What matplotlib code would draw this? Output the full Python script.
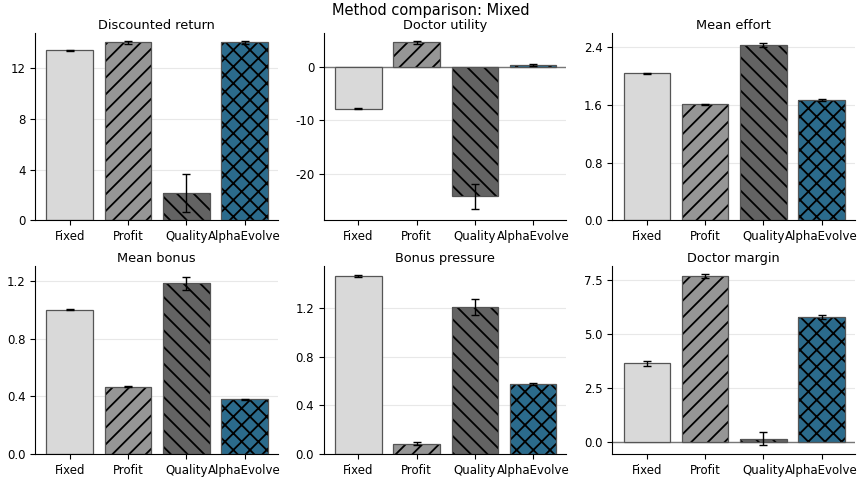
import matplotlib
matplotlib.use("Agg")
import matplotlib.pyplot as plt
import numpy as np

methods = ["Fixed", "Profit", "Quality", "AlphaEvolve"]
colors = ["#d9d9d9", "#969696", "#636363", "#2b6b8c"]
hatches = ["", "//", "\\\\", "xx"]

titles = ["Discounted return", "Doctor utility", "Mean effort",
          "Mean bonus", "Bonus pressure", "Doctor margin"]

discounted_return = [13.42, 14.05, 2.2, 14.05]
discounted_return_err = [0.05, 0.1, 1.5, 0.12]
doctor_utility = [-7.8, 4.6, -24.3, 0.4]
doctor_utility_err = [0.15, 0.3, 2.4, 0.15]
mean_effort = [2.04, 1.61, 2.43, 1.67]
mean_effort_err = [0.01, 0.008, 0.03, 0.01]
mean_bonus = [1.0, 0.465, 1.185, 0.378]
mean_bonus_err = [0.002, 0.004, 0.045, 0.004]
bonus_pressure = [1.46, 0.085, 1.205, 0.575]
bonus_pressure_err = [0.01, 0.015, 0.065, 0.008]
doctor_margin = [3.65, 7.72, 0.15, 5.82]
doctor_margin_err = [0.1, 0.1, 0.3, 0.1]

values = [discounted_return, doctor_utility, mean_effort,
          mean_bonus, bonus_pressure, doctor_margin]
errors = [discounted_return_err, doctor_utility_err, mean_effort_err,
          mean_bonus_err, bonus_pressure_err, doctor_margin_err]
yticks = [[0, 4, 8, 12], [-20, -10, 0], [0.0, 0.8, 1.6, 2.4],
          [0.0, 0.4, 0.8, 1.2], [0.0, 0.4, 0.8, 1.2], [0.0, 2.5, 5.0, 7.5]]
ytickfmt = ["{:.0f}", "{:.0f}", "{:.1f}", "{:.1f}", "{:.1f}", "{:.1f}"]

plt.rcParams['hatch.linewidth'] = 1.3
plt.rcParams['hatch.color'] = 'black'

fig, axes = plt.subplots(2, 3, figsize=(8.61, 4.83), dpi=100)
fig.subplots_adjust(left=0.041, right=0.993, top=0.932, bottom=0.06,
                    wspace=0.19, hspace=0.245)

x = np.arange(len(methods))
for i, ax in enumerate(axes.flat):
    v = values[i]
    e = errors[i]
    ax.bar(x, v, width=0.8, color=colors, edgecolor="black", hatch=hatches,
           linewidth=0, zorder=2)
    ax.bar(x, v, width=0.8, color="none", edgecolor="#555555",
           linewidth=0.9, zorder=3)
    ax.errorbar(x, v, yerr=e, fmt="none", ecolor="black", elinewidth=1.0,
                capsize=3, capthick=1.0, zorder=4)
    ax.set_title(titles[i], fontsize=9.3, pad=3)
    ax.set_xticks(x)
    ax.set_xticklabels(methods, fontsize=8.5)
    ax.set_yticks(yticks[i])
    ax.set_yticklabels([ytickfmt[i].format(t) for t in yticks[i]], fontsize=8.5)
    ax.grid(axis="y", color="#e8e8e8", linewidth=0.8, zorder=0)
    ax.set_axisbelow(True)
    ax.spines["top"].set_visible(False)
    ax.spines["right"].set_visible(False)
    ax.set_xlim(-0.59, 3.57)
    if min(v) < 0 or i == 5:
        ax.axhline(0, color="#777777", linewidth=1.0, zorder=1.5)

axes[0, 0].set_ylim(0, 14.8)
axes[0, 1].set_ylim(-28.8, 6.4)
axes[0, 2].set_ylim(0, 2.6)
axes[1, 0].set_ylim(0, 1.3)
axes[1, 1].set_ylim(0, 1.54)
axes[1, 2].set_ylim(-0.55, 8.15)

fig.suptitle("Method comparison: Mixed", fontsize=10.5, y=0.993)
fig.savefig("out.png", dpi=100)
